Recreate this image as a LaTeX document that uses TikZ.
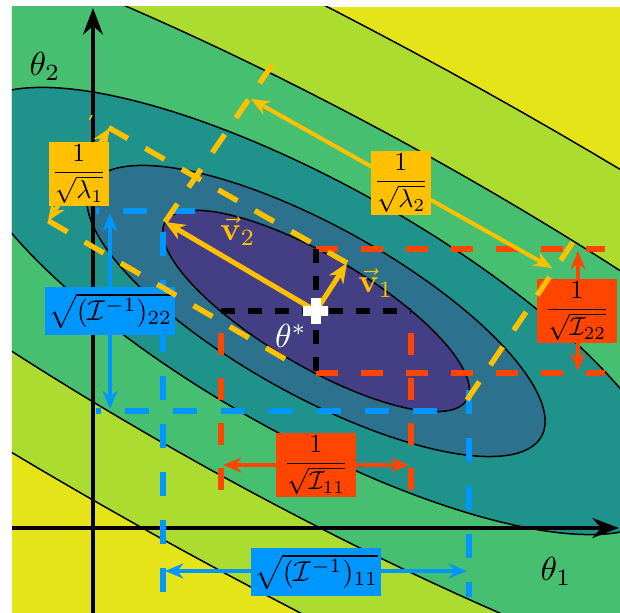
\documentclass[tikz,border=0pt]{standalone}
\usepackage{amsmath,amssymb}
\usetikzlibrary{arrows.meta,calc}
\definecolor{vyellow}{RGB}{228,228,25}
\definecolor{vlime}{RGB}{173,220,48}
\definecolor{vgreen}{RGB}{70,191,112}
\definecolor{vteal}{RGB}{32,146,140}
\definecolor{vblue}{RGB}{44,114,142}
\definecolor{vpurple}{RGB}{68,63,132}
\definecolor{eigyellow}{RGB}{255,192,0}
\definecolor{fisred}{RGB}{255,69,0}
\definecolor{covblue}{RGB}{0,150,255}
\tikzset{
  contourline/.style={draw=black,line width=0.45pt},
  axisline/.style={line width=1pt,-{Stealth[length=8pt,width=6pt]}},
  yellowdash/.style={eigyellow,line width=1.6pt,dash pattern=on 6.6pt off 6pt},
  reddash/.style={fisred,line width=1.6pt,dash pattern=on 6.6pt off 6.9pt},
  bluedash/.style={covblue,line width=1.6pt,dash pattern=on 7.2pt off 7.2pt},
  blackdash/.style={black,line width=1.6pt,dash pattern=on 4.2pt off 3.9pt},
  dimarrow/.style={line width=1.2pt,{Stealth[length=5.5pt,width=4.5pt]}-{Stealth[length=5.5pt,width=4.5pt]}},
  vecarrow/.style={eigyellow,line width=1.5pt,-{Stealth[length=6pt,width=5pt]}},
  labelbox/.style={inner sep=1.2pt,text=black},
  smallbox/.style={labelbox,scale=0.86},
  fracbox/.style={labelbox,scale=0.78}
}
\begin{document}
\begin{tikzpicture}[x=0.3pt,y=-0.3pt]
\useasboundingbox (0,0) rectangle (620,613);
\begin{scope}
  \clip (12,7) rectangle (620,613);
  \fill[vyellow] (12,7) rectangle (620,613);
  \foreach \ca/\cb/\cphi/\ccol in {1211/274/28.7/vlime,835/190/28.7/vgreen,399/125/29.3/vteal,258/84.5/29.1/vblue,175/55/30.5/vpurple}
    \filldraw[contourline,fill=\ccol] plot[domain=0:360,samples=181,variable=\t]
      ({316+\ca*cos(\t)*cos(\cphi)-\cb*sin(\t)*sin(\cphi)},{311+\ca*cos(\t)*sin(\cphi)+\cb*sin(\t)*cos(\cphi)}) -- cycle;
\end{scope}

\coordinate (xs) at (12,528);
\coordinate (xe) at (619,528);
\coordinate (ys) at (93,613);
\coordinate (ye) at (93,8);
\draw[axisline] (xs) -- (xe);
\draw[axisline] (ys) -- (ye);
\node (th2) at (45,66) {$\theta_2$};
\node (th1) at (556,571) {$\theta_1$};

\coordinate (opt) at (316,311);
% covariance box
\coordinate (bt) at (195,211);
\coordinate (bte) at (96,211);
\coordinate (bb) at (437,411);
\coordinate (bbe) at (96,411);
\coordinate (bl) at (163,232);
\coordinate (ble) at (163,597);
\coordinate (br) at (469,390);
\coordinate (bre) at (469,597);
\draw[bluedash] (bt) -- (bte);
\draw[bluedash] (bb) -- (bbe);
\draw[bluedash] (bl) -- (ble);
\draw[bluedash] (br) -- (bre);
\coordinate (b2a) at (110,213);
\coordinate (b2b) at (110,409);
\coordinate (b1a) at (165,571);
\coordinate (b1b) at (467,571);
\draw[dimarrow,covblue] (b2a) -- (b2b);
\draw[dimarrow,covblue] (b1a) -- (b1b);
\node[smallbox,fill=covblue,minimum height=16.7pt] (cv22) at (110,311) {$\sqrt{(\mathcal{I}^{-1})_{22}}$};
\node[smallbox,fill=covblue,minimum height=16.7pt] (cv11) at (316,572) {$\sqrt{(\mathcal{I}^{-1})_{11}}$};

% fisher box
\coordinate (hl) at (221,311);
\coordinate (hr) at (411,311);
\coordinate (hle) at (221,490);
\coordinate (hre) at (411,490);
\coordinate (vt) at (316,249);
\coordinate (vb) at (316,373);
\coordinate (vte) at (605,249);
\coordinate (vbe) at (605,373);
\draw[reddash] (vt) -- (vte);
\draw[reddash] (vb) -- (vbe);
\draw[reddash] (hle) -- (hl);
\draw[reddash] (hre) -- (hr);
\coordinate (r1a) at (223,465);
\coordinate (r1b) at (409,465);
\coordinate (r2a) at (578,251);
\coordinate (r2b) at (578,371);
\draw[dimarrow,fisred] (r1a) -- (r1b);
\draw[dimarrow,fisred] (r2a) -- (r2b);
\node[fracbox,fill=fisred,minimum width=30.8pt] (fi11) at (316,465) {$\dfrac{1}{\sqrt{\mathcal{I}_{11}}}$};
\node[fracbox,fill=fisred,minimum width=30.8pt] (fi22) at (577,311) {$\dfrac{1}{\sqrt{\mathcal{I}_{22}}}$};

% eigen box
\coordinate (v1) at (347,263);
\coordinate (v2) at (165,222);
\coordinate (mv1) at (285,359);
\coordinate (mv2) at (467,400);
\coordinate (up1) at (90,117);
\coordinate (lo1) at (35,213);
\coordinate (le2) at (272,65);
\coordinate (ri2) at (577,236);
\draw[yellowdash] (v1) -- (up1);
\draw[yellowdash] (mv1) -- (lo1);
\draw[yellowdash] (v2) -- (le2);
\draw[yellowdash] (mv2) -- (ri2);
\coordinate (l1a) at (110,128);
\coordinate (l1b) at (48,221);
\coordinate (l2a) at (251,99);
\coordinate (l2b) at (552,268);
\draw[dimarrow,eigyellow] (l1a) -- (l1b);
\draw[dimarrow,eigyellow] (l2a) -- (l2b);
\node[fracbox,fill=eigyellow] (lam1) at (79,174) {$\dfrac{1}{\sqrt{\lambda_1}}$};
\node[fracbox,fill=eigyellow] (lam2) at (401,183) {$\dfrac{1}{\sqrt{\lambda_2}}$};

\draw[blackdash] (hl) -- (hr);
\draw[blackdash] (vt) -- (vb);
\draw[vecarrow] (opt) -- (v2);
\draw[vecarrow] (opt) -- (v1);
\node[text=eigyellow] (v2lab) at (238,231) {$\vec{\mathbf{v}}_2$};
\node[text=eigyellow] (v1lab) at (376,283) {$\vec{\mathbf{v}}_1$};
\fill[white] ($(opt)+(-12.5,-5)$) rectangle ($(opt)+(12.5,5)$);
\fill[white] ($(opt)+(-5,-13)$) rectangle ($(opt)+(5,13)$);
\node[text=white] (thstar) at (291,336) {$\theta^*$};
\end{tikzpicture}
\end{document}
